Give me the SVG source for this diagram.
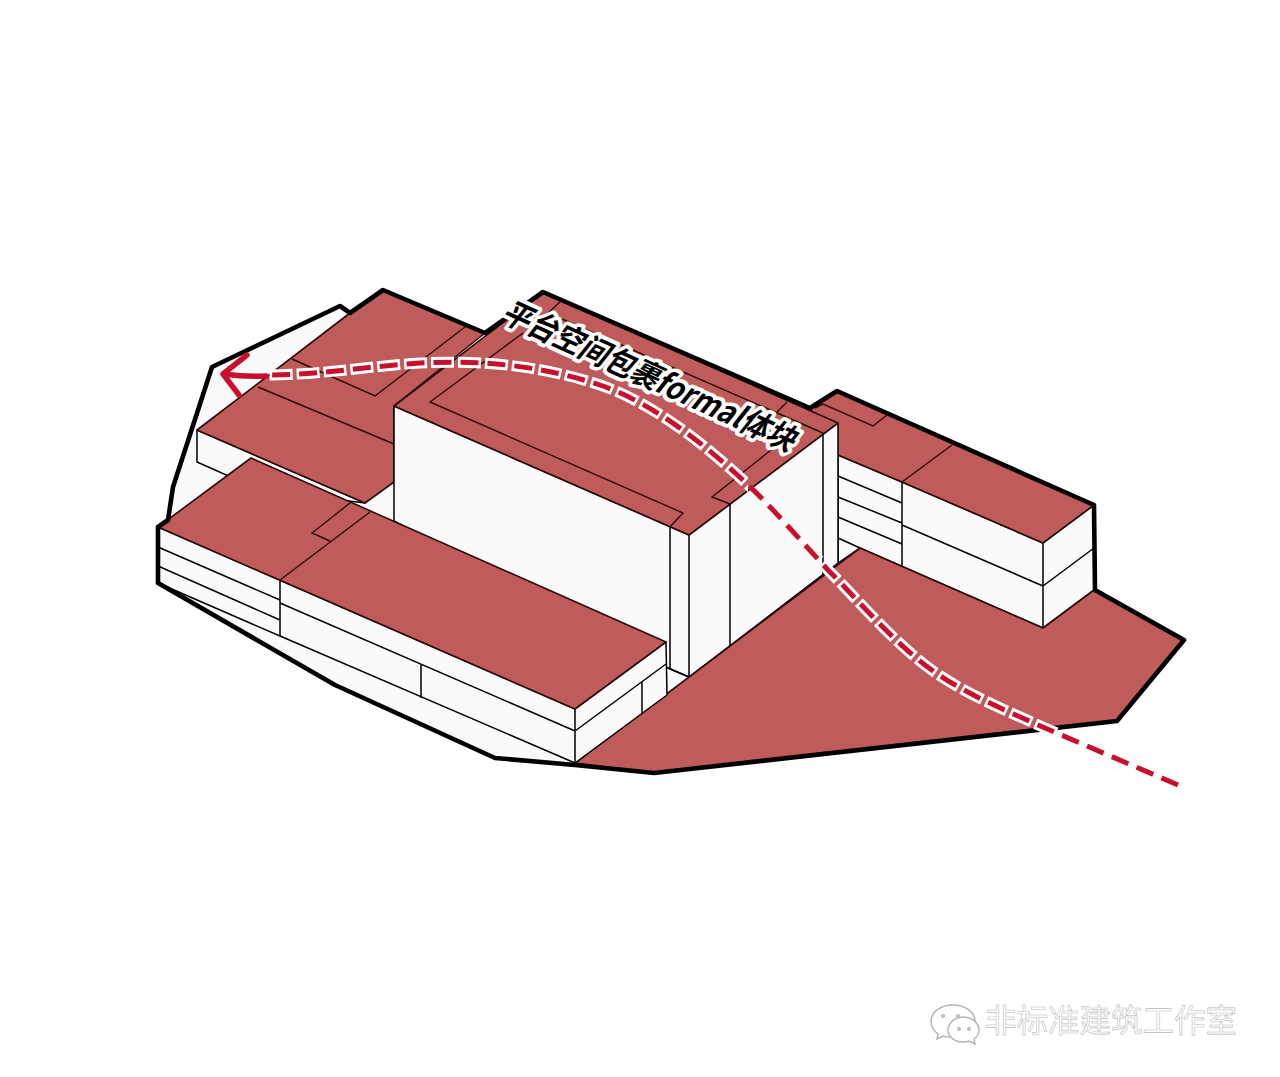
<svg xmlns="http://www.w3.org/2000/svg" width="1280" height="1077" viewBox="0 0 1280 1077">
<style>
.red{fill:#bf5b5b;stroke:#2a0a0a;stroke-width:1.6;stroke-linejoin:round}
.wh{fill:#fafafa;stroke:#000;stroke-width:1.5;stroke-linejoin:round}
.ln{fill:none;stroke:#000;stroke-width:1.5}
.rl{fill:none;stroke:#2a0a0a;stroke-width:1.4}
.out{fill:none;stroke:#000;stroke-width:4.6;stroke-linejoin:round}
.route{fill:none;stroke:#c8102e;stroke-width:5;stroke-dasharray:18 9}
.halo{fill:none;stroke:#fff;stroke-width:11;stroke-dasharray:23 4;stroke-dashoffset:2.5;stroke-linejoin:round}
.mark{font-family:"Noto Sans CJK SC","Liberation Sans",sans-serif;font-size:31.5px;fill:#fff;stroke:#bbb;stroke-width:.6}
.lab{font-family:"Noto Sans CJK SC","Liberation Sans",sans-serif;font-size:28.5px;font-weight:700;fill:#000;stroke:#fff;stroke-width:7;stroke-linejoin:round;paint-order:stroke}
.ic{fill:#fff;stroke:#b4b4b4;stroke-width:1.4}
</style>
<defs>
<path id="r" d="M1178,785 L1045,728 C1005,710 960,692 925,665 C890,638 855,597 828,570 C800,540 770,505 745,482 C700,440 650,402 600,385 C540,365 480,360 420,363 C370,366 320,375 265,375"/>
<clipPath id="hc"><polygon points="268,340 268,400 748,495 748,340"/><polygon points="822,550 1060,700 1060,760 822,620"/></clipPath>
</defs>
<rect width="1280" height="1077" fill="#fff"/>
<g id="site"><polygon points="158,583 158,527 168,520 173,487 212,367 340,306 350,313 383,290 485,333 543,292 810,408 837,391 1094,505 1095,590 1184,640 1117,721 654,773 575,765 495,758 335,685" fill="#fafafa"/></g>
<g id="back-block">
<polygon class="wh" points="197,430 197,462 260,490 365,503"/>
<polygon class="red" points="197,430 350,313 383,290 485,333 394,406 394,482 365,503"/>
<path class="rl" d="M292,359 L375,396 L465,327 M258,387 L394,444"/>
</g>
<g id="right-block">
<polygon class="wh" points="838,455 902,482 1043,543 1094,505 1094,590 1043,628 860,548 838,563"/>
<polygon class="red" points="810,408 837,391 1094,505 1043,543 902,482 838,455"/>
<path class="rl" d="M815,408 L823,404 L873,426 L887,415 M952,445 L902,482"/>
<path class="ln" d="M838,476 L902,503 M838,497 L902,523 M838,517 L902,544 M838,538 L860,548 M902,482 V566 M902,525 L1043,586 M1043,543 V628 M1043,586 L1094,548"/>
</g>
<g id="main-block">
<polygon class="wh" points="394,406 689,535 838,423 838,563 689,677 668,668 394,521"/>
<polygon class="red" points="394,406 543,292 838,423 689,535"/>
<path class="rl" d="M548,313 L823,433 M560,302 L548,313 M787,402 L777,412 M523,333 L430,402 L683,513 L670,527 M800,427 L712,497 L730,504"/>
<path class="ln" d="M670,527 V668 M689,535 V677 M730,504 V646 M823,433 V575 M668,668 L689,677"/>
</g>
<g id="ground"><polygon class="red" points="575,763 860,548 1043,628 1094,590 1184,640 1117,721 654,773"/></g>
<g id="front-block">
<polygon class="wh" points="158,527 575,709 666,642 667,695 575,763 280,636 158,583"/>
<polygon class="red" points="158,527 251,458 666,642 575,709"/>
<path class="rl" d="M280,580 L370,512 M350,503 L312,533 L330,541"/>
<path class="ln" d="M158,547 L280,600 M158,566 L280,620 M280,580 V636 M280,603 L575,731 M575,709 V763 M575,731 L666,664 M421,665 V698 M642,682 V713"/>
</g>
<g id="outline"><path class="out" d="M575,765 L654,773 L1117,721 L1184,640 L1095,590 L1094,505 L837,391 L810,408 L543,292 L485,333 L383,290 L350,313 L340,306 L212,367 L173,487 L168,520 L158,527 L158,583 L335,685 L495,758 Z"/></g>
<g id="connectors">
<use href="#r" class="halo" clip-path="url(#hc)"/>
<use href="#r" class="route"/>
<path d="M247,355 L223,374 L239,395 M223,374 Q245,377 266,376" fill="none" stroke="#c8102e" stroke-width="5.5" stroke-linejoin="round" stroke-linecap="round"/>
</g>
<g id="label"><text class="lab" transform="matrix(.9 .41 -.72 .9 499 320)">平台空间包裹formal体块</text></g>
<g id="watermark">
<path class="ic" d="M953,1005 C941,1005 931,1012 931,1021 C931,1026 934,1031 938,1034 L937,1039 L943,1036 C946,1037 949,1037 952,1037 C960,1037 975,1030 975,1021 C975,1012 965,1005 953,1005 Z"/>
<path class="ic" d="M963,1017 C955,1017 948,1023 948,1030 C948,1037 955,1042 963,1042 C965,1042 967,1042 969,1041 L975,1044 L974,1039 C977,1037 979,1034 979,1030 C979,1023 972,1017 963,1017 Z"/>
<circle class="ic" cx="943" cy="1016" r="1.4"/><circle class="ic" cx="958" cy="1016" r="1.4"/><circle class="ic" cx="959" cy="1029" r="1.2"/><circle class="ic" cx="969" cy="1029" r="1.2"/>
<text class="mark" x="985" y="1032">非标准建筑工作室</text>
</g>
</svg>
